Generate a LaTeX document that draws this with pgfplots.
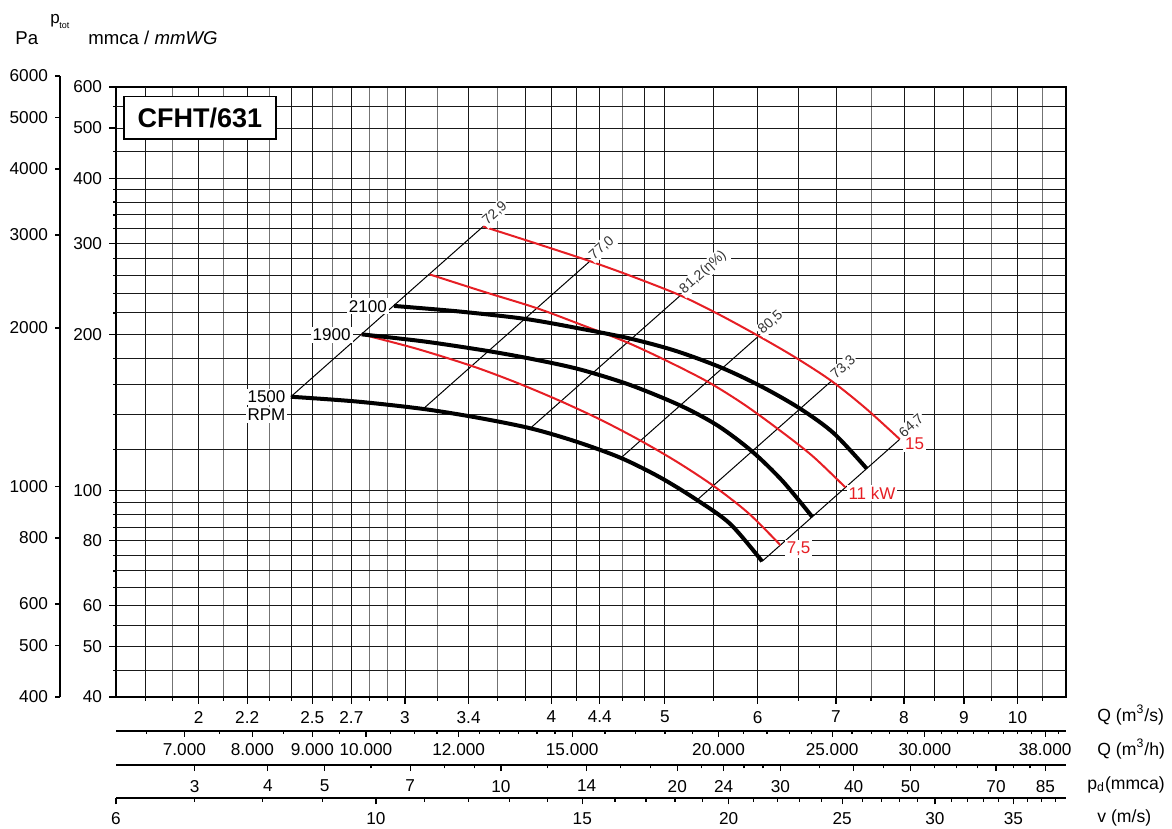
\documentclass[border=0pt]{standalone}
\usepackage{fontspec}
\setmainfont{Liberation Sans}
\usepackage{pgfplots}
\pgfplotsset{compat=1.18}
\definecolor{pred}{RGB}{230,30,36}
\newcommand{\fs}[1]{\fontsize{#1}{#1}\selectfont}
\begin{document}
\begin{tikzpicture}[x=1pt,y=1pt]
\useasboundingbox (0,0) rectangle (586,-414.5);

% ---------------- main chart (mmca vs Q m3/s) ----------------
\begin{axis}[
  at={(58pt,-348.5pt)}, anchor=south west,
  scale only axis, width=475pt, height=305pt,
  xmode=log, ymode=log,
  xmin=1.7, xmax=11, ymin=40, ymax=600,
  axis line style={line width=1pt},
  xtick={2,2.2,2.5,2.7,3,3.4,4,4.4,5,6,7,8,9,10},
  xticklabels={2,2.2,2.5,2.7,3,3.4,4,4.4,5,6,7,8,9,10},
  extra x ticks={1.8,2.4,3.8,4.2,4.8,5.5,6.5,8.5},
  extra x tick labels={},
  minor xtick={1.9,2.1,2.3,2.6,2.8,2.9,3.2,3.6,4.6,7.5,9.5,10.5},
  ytick={40,50,60,80,100,200,300,400,500,600},
  yticklabels={40,50,60,80,100,200,300,400,500,600},
  extra y ticks={45,55,65,70,75,85,90,95,120,140,160,180,220,240,260,280,320,340,360,380,450,550},
  extra y tick labels={},
  minor ytick={},
  tick align=outside, xtick pos=bottom, ytick pos=left,
  major tick length=3.5pt, minor tick length=2pt,
  extra x tick style={major tick length=2pt, grid=major},
  extra y tick style={major tick length=1.5pt, grid=major},
  grid=both,
  major grid style={line width=0.5pt, black!90},
  minor grid style={line width=0.5pt, black!55},
  tick style={line width=0.6pt, black},
  ticklabel style={font=\fs{8.6}},
]
% efficiency (system) lines
\addplot[black, line width=0.5pt] coordinates {(2.397,151.7) (3.498,323.0)};
\addplot[black, line width=0.5pt] coordinates {(3.109,143.7) (4.315,276.9)};
\addplot[black, line width=0.5pt] coordinates {(3.837,131.8) (5.155,237.8)};
\addplot[black, line width=0.5pt] coordinates {(4.586,115.6) (6.012,198.6)};
\addplot[black, line width=0.5pt] coordinates {(5.326,95.9) (6.938,162.7)};
\addplot[black, line width=0.5pt] coordinates {(6.053,73.06) (7.936,125.6)};
% power curves
\addplot[pred, line width=1pt, smooth] coordinates {
 (2.755,200.1) (3.065,187.9) (3.421,173.9) (3.726,161.9) (4.053,149.5) (4.403,137.1)
 (4.764,124.9) (5.124,113.5) (5.502,102.1) (5.892,90.5) (6.275,78.5)};
\addplot[pred, line width=1pt, smooth] coordinates {
 (3.151,261) (3.498,242.0) (3.887,224.8) (4.250,208.5) (4.634,193.4) (5.024,177.7)
 (5.445,161.9) (5.834,146.9) (6.238,131.7) (6.683,116.6) (7.131,101.4)};
\addplot[pred, line width=1pt, smooth] coordinates {
 (3.498,323) (3.883,299.5) (4.315,276.9) (4.707,257.9) (5.155,237.8) (5.565,218.4)
 (6.012,198.6) (6.465,180.5) (6.938,162.7) (7.418,144.2) (7.936,125.6)};
% fan curves (RPM)
\addplot[black, line width=2pt, smooth] coordinates {
 (2.397,151.7) (2.729,148.5) (3.109,143.7) (3.456,138.3) (3.837,131.9) (4.200,124.3)
 (4.586,115.6) (4.955,106.0) (5.326,95.9) (5.687,86.2) (6.053,73.06)};
\addplot[black, line width=2pt, smooth] coordinates {
 (2.755,200.1) (3.121,193.8) (3.534,185.8) (3.875,178.9) (4.233,171.2) (4.671,159.8)
 (5.164,145.6) (5.554,133.2) (5.935,119.0) (6.300,104.4) (6.680,89.0)};
\addplot[black, line width=2pt, smooth] coordinates {
 (2.936,227.0) (3.336,221.5) (3.800,214.3) (4.217,205.6) (4.671,196.4) (5.114,185.8)
 (5.598,172.3) (6.056,158.4) (6.529,143.7) (6.969,129.0) (7.437,110.2)};
% efficiency labels
\begin{scope}[every node/.style={font=\fs{7}, text=black!80, rotate=41.6, anchor=west, fill=white, inner sep=0.8pt, xshift=1pt, yshift=1pt}]
\node at (axis cs:3.498,323.0) {72,9};
\node at (axis cs:4.315,276.9) {77,0};
\node at (axis cs:5.155,237.8) {81,2(η\%)};
\node at (axis cs:6.012,198.6) {80,5};
\node at (axis cs:6.938,162.7) {73,3};
\node at (axis cs:7.936,125.6) {64,7};
\end{scope}
% speed and power labels
\begin{scope}[every node/.style={font=\fs{8.5}, fill=white, inner sep=1pt}]
\node at (axis cs:2.789,226.5) {2100};
\node at (axis cs:2.597,199.9) {1900};
\node at (axis cs:2.285,151.7) {1500};
\node at (axis cs:2.285,139.9) {RPM};
\node[text=pred] at (axis cs:6.503,77.2) {7,5};
\node[text=pred] at (axis cs:7.513,98.9) {11 kW};
\node[text=pred] at (axis cs:8.168,123.0) {15};
\end{scope}
\end{axis}

% ---------------- Pa scale ----------------
\begin{axis}[
  at={(30pt,-348.5pt)}, anchor=south west, scale only axis,
  width=1pt, height=310.5pt,
  ymode=log, ymin=400, ymax=6000, xmin=0, xmax=1,
  axis y line=left, hide x axis, y axis line style={-, line width=0.7pt},
  tick align=outside, major tick length=2.5pt,
  ytick={400,500,600,800,1000,2000,3000,4000,5000,6000},
  yticklabels={400,500,600,800,1000,2000,3000,4000,5000,6000},
  minor ytick={},
  tick style={line width=0.6pt, black},
  ticklabel style={font=\fs{8.6}},
]
\end{axis}

% ---------------- Q (m3/h) scale ----------------
\begin{axis}[
  at={(58pt,-365.35pt)}, anchor=south west, scale only axis,
  width=475pt, height=1pt,
  xmode=log, xmin=6120, xmax=39600, ymin=0, ymax=1,
  axis x line=bottom, hide y axis, x axis line style={-, line width=1pt},
  tick align=outside, major tick length=3pt, minor tick length=1.7pt,
  xtick={7000,8000,9000,10000,12000,15000,20000,25000,30000,38000},
  xticklabels={7.000,8.000,9.000,10.000,12.000,15.000,20.000,25.000,30.000,38.000},
  minor xtick={6500,7500,8500,9500,10500,11000,11500,12500,13000,13500,14000,14500,16000,17000,18000,19000,21000,22000,23000,24000,26000,27000,28000,29000,31000,32000,33000,34000,35000,36000,37000,39000},
  tick style={line width=0.6pt, black},
  ticklabel style={font=\fs{8.6}},
]
\end{axis}

% ---------------- p_d (mmca) scale ----------------
\begin{axis}[
  at={(58pt,-382.5pt)}, anchor=south west, scale only axis,
  width=475pt, height=1pt,
  xmode=log, xmin=2.202, xmax=92.17, ymin=0, ymax=1,
  axis x line=bottom, hide y axis, x axis line style={-, line width=1pt},
  tick align=outside, major tick length=3pt, minor tick length=1.7pt,
  xtick={3,4,5,7,10,14,20,24,30,40,50,70,85},
  xticklabels={3,4,5,7,10,14,20,24,30,40,50,70,85},
  minor xtick={6,8,9,12,16,18,22,26,28,35,45,55,60,65,75,80},
  tick style={line width=0.6pt, black},
  ticklabel style={font=\fs{8.6}, yshift=-1pt},
]
\end{axis}

% ---------------- v (m/s) scale ----------------
\begin{axis}[
  at={(58pt,-399.15pt)}, anchor=south west, scale only axis,
  width=475pt, height=1pt,
  xmode=log, xmin=6, xmax=38.82, ymin=0, ymax=1,
  axis x line=bottom, hide y axis, x axis line style={-, line width=1pt},
  tick align=outside, major tick length=3pt, minor tick length=1.7pt,
  xtick={6,10,15,20,25,30,35},
  xticklabels={6,10,15,20,25,30,35},
  minor xtick={7,8,9,11,12,13,14,16,17,18,19,21,22,23,24,26,27,28,29,31,32,33,34,36,37,38},
  tick style={line width=0.6pt, black},
  ticklabel style={font=\fs{8.6}, yshift=-0.5pt},
]
\end{axis}

% ---------------- titles ----------------
\node[anchor=base west, font=\fs{9.3}, inner sep=0] at (7.5,-22.5) {Pa};
\node[anchor=base west, font=\fs{8.5}, inner sep=0] at (25,-11.65) {p};
\node[anchor=base west, font=\fs{4.5}, inner sep=0] at (29.5,-14.15) {tot};
\node[anchor=base west, font=\fs{9.3}, inner sep=0] at (44,-22.5) {mmca / \textit{mmWG}};
\node[draw, line width=0.8pt, fill=white, minimum width=76pt, minimum height=21.3pt, inner sep=0pt, font=\bfseries\fs{13.5}] at (100,-59) {CFHT/631};
\node[anchor=base west, font=\fs{8.8}, inner sep=0] at (548.5,-360.5) {Q (m\textsuperscript{3}/s)};
\node[anchor=base west, font=\fs{8.8}, inner sep=0] at (548.5,-377.75) {Q (m\textsuperscript{3}/h)};
\node[anchor=base west, font=\fs{8.8}, inner sep=0] at (543.5,-394.5) {p\textsubscript{d}(mmca)};
\node[anchor=base west, font=\fs{8.8}, inner sep=0] at (548.5,-411) {v (m/s)};
\end{tikzpicture}
\end{document}
